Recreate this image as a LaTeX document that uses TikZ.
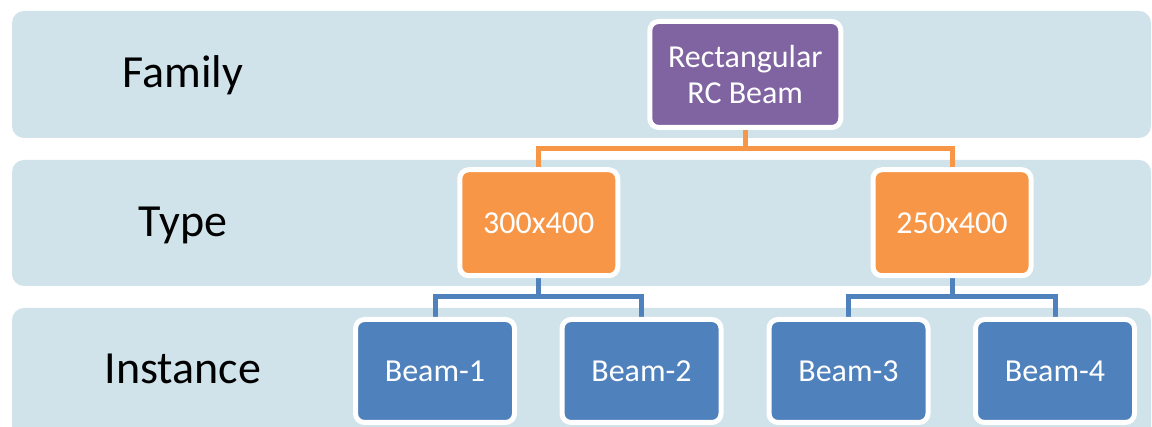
\documentclass[tikz,border=0pt]{standalone}
\usepackage{fontspec}
\setmainfont{Carlito}
\usetikzlibrary{positioning}
\definecolor{bandc}{HTML}{D0E2EA}
\definecolor{purp}{HTML}{8064A2}
\definecolor{oran}{HTML}{F79646}
\definecolor{blu}{HTML}{4F81BD}
\pgfdeclarelayer{bg}
\pgfdeclarelayer{conn}
\pgfsetlayers{bg,conn,main}
\tikzset{
  band/.style={fill=bandc, rounded corners=12pt},
  lvl/.style={anchor=base, font=\fontsize{46}{50}\selectfont, text=black},
  box/.style={draw=white, line width=5pt, rounded corners=9pt, text=white,
    font=\fontsize{32}{36}\selectfont, align=center, inner sep=0pt},
  famb/.style={box, fill=purp, minimum width=191pt, minimum height=106pt},
  typeb/.style={box, fill=oran, minimum width=158pt, minimum height=106pt},
  instb/.style={box, fill=blu, minimum width=159pt, minimum height=103pt},
  oc/.style={draw=oran, line width=5pt},
  bc/.style={draw=blu, line width=5pt}
}
\begin{document}
\begin{tikzpicture}[x=1pt,y=-1pt]
\useasboundingbox (0,0) rectangle (1152,427);
\begin{pgfonlayer}{bg}
\fill[band] (12,11) rectangle (1151,138);
\fill[band] (12,160) rectangle (1151,286);
\fill[band] (12,308) rectangle (1151,450);
\end{pgfonlayer}
\node[lvl] (lf) at (183,88) {Family};
\node[lvl] (lt) at (183,237) {Type};
\node[lvl] (li) at (183,384) {Instance};
\node[famb] (fam) at (745.25,74.5) {Rectangular\\RC Beam};
\node[typeb] (t1) at (538.75,222.75) {300x400};
\node[typeb] (t2) at (952,222.75) {250x400};
\node[instb] (b1) at (435,371) {Beam-1};
\node[instb] (b2) at (641.5,371) {Beam-2};
\node[instb] (b3) at (848.5,371) {Beam-3};
\node[instb] (b4) at (1055,371) {Beam-4};
\coordinate (j1) at (745.25,149);
\coordinate (j2) at (538.75,297);
\coordinate (j3) at (952,297);
\begin{pgfonlayer}{conn}
\draw[oc] (fam.south) -- (j1);
\draw[oc] (t1.north) -- (t1.north |- j1) -- (t2.north |- j1) -- (t2.north);
\draw[bc] (t1.south) -- (j2);
\draw[bc] (b1.north) -- (b1.north |- j2) -- (b2.north |- j2) -- (b2.north);
\draw[bc] (t2.south) -- (j3);
\draw[bc] (b3.north) -- (b3.north |- j3) -- (b4.north |- j3) -- (b4.north);
\end{pgfonlayer}
\end{tikzpicture}
\end{document}
